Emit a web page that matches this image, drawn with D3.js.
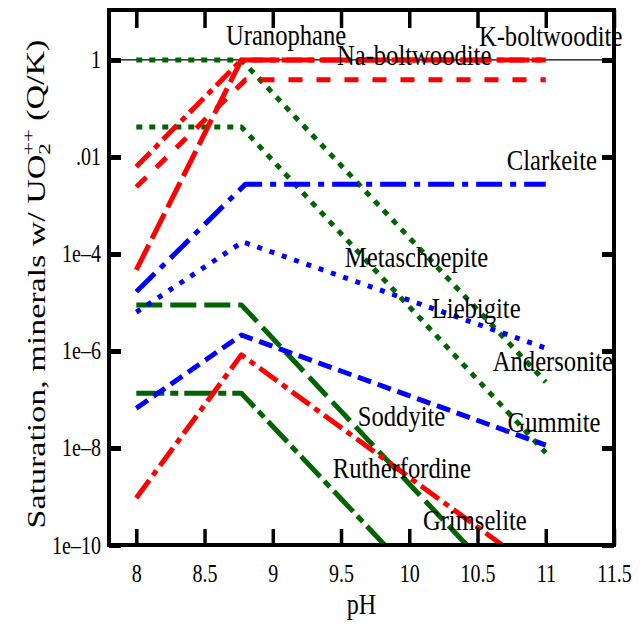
<!DOCTYPE html>
<html>
<head>
<script src="https://d3js.org/d3.v7.min.js"></script>
<style>
  body { margin: 0; background: #fff; }
  svg { font-family: "Liberation Serif", "Times New Roman", serif; }
  .frame { fill: none; stroke: #000; stroke-width: 4; }
  .curve { fill: none; stroke-width: 5; stroke-linejoin: round; }
  .axis path { display: none; }
  .axis line { stroke: #000; }
  .axis text { fill: #000; font-family: "Liberation Serif", serif; font-size: 25px; }
  .label { font-size: 30px; fill: #000; }
</style>
</head>
<body>
<div id="chart"></div>
<script>
// saturation index curves, log10(Q/K) at pH start, corner, end
var minerals = ["Andersonite", "Metaschoepite", "Soddyite", "Rutherfordine",
  "Uranophane", "Na-boltwoodite", "K-boltwoodite", "Grimselite",
  "Gummite", "Liebigite", "Clarkeite"];
var curvePH = [
  [8, 8.77, 11], [8, 8.77, 11], [8, 8.77, 10.42], [8, 8.77, 9.82],
  [8, 8.77, 11], [8, 8.8, 11], [8, 8.77, 11], [8, 8.77, 10.68],
  [8, 8.77, 11], [8, 8.78, 11], [8, 8.8, 11]
];
var curveLogQK = [
  [0, 0, -6.64], [-1.38, -1.38, -8.1], [-5.05, -5.05, -10], [-6.87, -6.87, -10],
  [-2.2, 0, 0], [-2.62, -0.41, -0.41], [-4.33, 0, 0], [-9.03, -6.08, -10],
  [-7.18, -5.67, -7.94], [-5.2, -3.75, -5.94], [-4.78, -2.56, -2.56]
];

// label anchors (left end of baseline)
var labelNames = ["Uranophane", "Na-boltwoodite", "K-boltwoodite", "Clarkeite",
  "Metaschoepite", "Liebigite", "Andersonite", "Gummite", "Soddyite",
  "Rutherfordine", "Grimselite"];
var labelPH = [8.657, 9.47, 10.51, 10.714, 9.528, 10.165, 10.612, 10.72, 9.623, 9.44, 10.10];
var labelLogQK = [0.31, -0.10, 0.29, -2.27, -4.27, -5.32, -6.41, -7.67, -7.55, -8.62, -9.69];

var xTicks = [8, 8.5, 9, 9.5, 10, 10.5, 11, 11.5];
var yTicks = [1, 1e-2, 1e-4, 1e-6, 1e-8, 1e-10];
var yTickLabels = ["1", ".01", "1e\u20134", "1e\u20136", "1e\u20138", "1e\u201310"];

var red = "#ff0000", blue = "#0000ff", green = "#006400";
var style = {
  "Andersonite":    {color: green, dash: "6,7", w: 6},
  "Metaschoepite":  {color: green, dash: "6,7", w: 6},
  "Soddyite":       {color: green, dash: "26,8"},
  "Rutherfordine":  {color: green, dash: "28,6,8,6"},
  "Uranophane":     {color: red, dash: "20,6,6,6"},
  "Na-boltwoodite": {color: red, dash: "14,14"},
  "K-boltwoodite":  {color: red, dash: "28,7"},
  "Grimselite":     {color: red, dash: "22,6,6,6"},
  "Gummite":        {color: blue, dash: "14,7"},
  "Liebigite":      {color: blue, dash: "5,8"},
  "Clarkeite":      {color: blue, dash: "26,8,6,8"}
};

var width = 643, height = 629;
var pLeft = 109, pRight = 614, pTop = 10, pBottom = 545;

var x = d3.scaleLinear().domain([7.8, 11.5]).range([pLeft, pRight]);
var y = d3.scaleLog().domain([1e-10, Math.pow(10, 1.03)]).range([pBottom, pTop]);

var svg = d3.select("#chart").append("svg")
  .attr("width", width)
  .attr("height", height);

svg.append("rect").attr("width", width).attr("height", height).attr("fill", "#fff");

svg.append("clipPath").attr("id", "plot")
  .append("rect")
  .attr("x", pLeft).attr("y", pTop)
  .attr("width", pRight - pLeft).attr("height", pBottom - pTop);

// squeeze text horizontally (reference type is tall and narrow)
function condense(sel, k) {
  sel.each(function() {
    var w = this.getComputedTextLength();
    d3.select(this).attr("textLength", w * k).attr("lengthAdjust", "spacingAndGlyphs");
  });
}

// reference line at Q/K = 1
svg.append("line")
  .attr("x1", x.range()[0]).attr("x2", x.range()[1])
  .attr("y1", y(1)).attr("y2", y(1))
  .attr("stroke", "#000").attr("stroke-width", 1.2);

var line = d3.line()
  .x(d => x(d[0]))
  .y(d => y(Math.pow(10, d[1])));

var curves = minerals.map(function(name, i) {
  return {name: name, pts: curvePH[i].map((p, j) => [p, curveLogQK[i][j]])};
});

svg.append("g")
  .attr("clip-path", "url(#plot)")
  .selectAll("path")
  .data(curves).enter()
  .append("path")
  .attr("class", "curve")
  .attr("d", d => line(d.pts))
  .attr("stroke", d => style[d.name].color)
  .attr("stroke-width", d => style[d.name].w || 5)
  .attr("stroke-dasharray", d => style[d.name].dash);

/* Axes */
var xb = svg.append("g").attr("class", "axis")
  .attr("transform", `translate(0, ${pBottom})`)
  .call(d3.axisBottom(x).tickValues(xTicks).tickSize(-16).tickFormat(d3.format("")));
xb.attr("font-family", null).attr("font-size", null);
xb.selectAll("line").attr("stroke-width", 3.5);
xb.selectAll("text").attr("y", 37).attr("dy", null);
condense(xb.selectAll("text"), 0.8);

var xt = svg.append("g").attr("class", "axis")
  .attr("transform", `translate(0, ${pTop})`)
  .call(d3.axisTop(x).tickValues(xTicks).tickSize(-18).tickFormat(""));
xt.selectAll("line").attr("stroke-width", 3.5);

var yl = svg.append("g").attr("class", "axis")
  .attr("transform", `translate(${pLeft}, 0)`)
  .call(d3.axisLeft(y).tickValues(yTicks).tickSize(-12)
    .tickFormat((d, i) => yTickLabels[i]));
yl.attr("font-family", null).attr("font-size", null);
yl.selectAll("line").attr("stroke-width", 5);
yl.selectAll("text").attr("x", -8).attr("dy", "0.32em");
condense(yl.selectAll("text"), 0.8);

var yr = svg.append("g").attr("class", "axis")
  .attr("transform", `translate(${pRight}, 0)`)
  .call(d3.axisRight(y).tickValues(yTicks).tickSize(-12).tickFormat(""));
yr.selectAll("line").attr("stroke-width", 5);

svg.append("rect")
  .attr("class", "frame")
  .attr("x", pLeft).attr("y", pTop)
  .attr("width", pRight - pLeft).attr("height", pBottom - pTop);

/* Curve labels */
var labels = svg.append("g").selectAll("text")
  .data(labelNames).enter()
  .append("text")
  .attr("class", "label")
  .attr("x", (d, i) => x(labelPH[i]))
  .attr("y", (d, i) => y(Math.pow(10, labelLogQK[i])))
  .text(d => d);
condense(labels, 0.82);

/* Axis titles */
var xTitle = svg.append("text")
  .attr("x", (pLeft + pRight) / 2)
  .attr("y", 614)
  .attr("text-anchor", "middle")
  .style("font-size", "30px")
  .text("pH");
condense(xTitle, 0.8);

var yTitle = svg.append("g")
  .attr("transform", "translate(45, 284) rotate(-90) scale(1.36, 1)")
  .append("text")
  .attr("text-anchor", "middle")
  .style("font-size", "25px");
yTitle.append("tspan").text("Saturation, minerals w/ UO");
yTitle.append("tspan").attr("dy", "0.3em").style("font-size", "17px").text("2");
yTitle.append("tspan").attr("dx", "-9").attr("dy", "-0.95em").style("font-size", "17px").text("++");
yTitle.append("tspan").attr("dy", "0.4em").text(" (Q/K)");
</script>
</body>
</html>
